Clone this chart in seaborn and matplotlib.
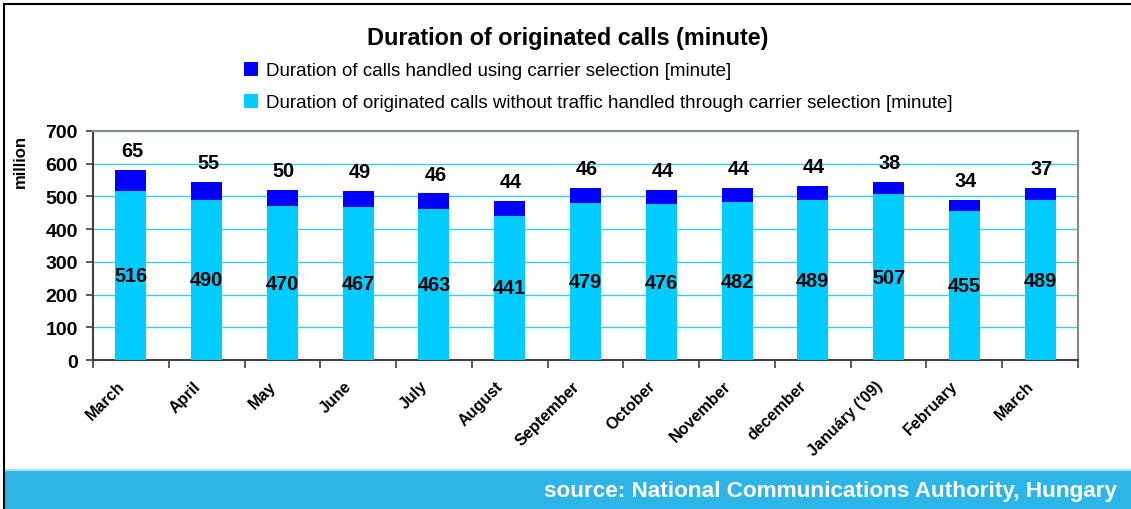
import numpy as np
import pandas as pd
import matplotlib
matplotlib.use("Agg")
import matplotlib.pyplot as plt
import matplotlib.transforms as mtransforms
from matplotlib.patches import Rectangle, Patch
from matplotlib.lines import Line2D
import seaborn as sns

months = ["March", "April", "May", "June", "July", "August", "September",
          "October", "November", "december", "Januáry ('09)", "February", "March"]
without_cs = [516, 490, 470, 467, 463, 441, 479, 476, 482, 489, 507, 455, 489]
with_cs = [65, 55, 50, 49, 46, 44, 46, 44, 44, 44, 38, 34, 37]

title = "Duration of originated calls (minute)"
label_cs = "Duration of calls handled using carrier selection [minute]"
label_rest = "Duration of originated calls without traffic handled through carrier selection [minute]"
source = "source: National Communications Authority, Hungary"

dark_blue = "#0000FF"
light_blue = "#00CCFF"

sns.set_theme(style="white")
plt.rcParams['font.family'] = ['Liberation Sans', 'DejaVu Sans']
plt.rcParams['text.color'] = 'black'
plt.rcParams['axes.labelcolor'] = 'black'
plt.rcParams['xtick.color'] = 'black'
plt.rcParams['ytick.color'] = 'black'

df = pd.DataFrame({
    "key": [str(i) for i in range(len(months))],
    "month": months,
    "rest": without_cs,
    "cs": with_cs,
})
df["total"] = df["rest"] + df["cs"]

fig = plt.figure(figsize=(11.31, 5.10), dpi=100)
ax = fig.add_axes([93/1131, 1 - 361/510, (1078 - 93)/1131, (361 - 132)/510])

sns.barplot(data=df, x="key", y="total", color=dark_blue, width=0.41,
            saturation=1, linewidth=0, ax=ax, zorder=3)
sns.barplot(data=df, x="key", y="rest", color=light_blue, width=0.41,
            saturation=1, linewidth=0, ax=ax, zorder=3)

ax.set_ylim(0, 700)
ax.set_xlim(-0.5, len(months) - 0.5)
ax.set_yticks(range(0, 701, 100))
ax.set_yticklabels([str(v) for v in range(0, 701, 100)], fontsize=14, fontweight="bold")
ax.yaxis.grid(True, color="#33CCF5", linewidth=1, zorder=0)
ax.xaxis.grid(False)
ax.set_axisbelow(True)

ax.set_xticks(range(len(months)))
ax.set_xticklabels(months, rotation=45, ha="right", rotation_mode="anchor",
                   fontsize=11.6, fontweight="bold")
ax.tick_params(axis="x", which="major", length=0, pad=13)
ax.set_xticks(np.arange(-0.5, len(months), 1), minor=True)
ax.tick_params(axis="x", which="minor", length=6, width=1.2, color="#404040", direction="out", bottom=True)
ax.tick_params(axis="y", length=5, width=1.2, color="#404040", direction="out", left=True, pad=6)
# nudge the slanted month labels left, as in the original
shift = mtransforms.ScaledTranslation(-14/100, 0, fig.dpi_scale_trans)
for lbl in ax.get_xticklabels():
    lbl.set_transform(lbl.get_transform() + shift)
ax.set_xlabel("")
ax.set_ylabel("million", fontsize=12, fontweight="bold")
ax.yaxis.set_label_coords(-65/985, 0.87)

for side in ["left", "bottom"]:
    ax.spines[side].set_color("#404040")
    ax.spines[side].set_linewidth(1.5)
for side in ["top", "right"]:
    ax.spines[side].set_color("#888888")
    ax.spines[side].set_linewidth(1.5)

for i, row in df.iterrows():
    ax.annotate(str(row["rest"]), (i, row["rest"] / 2), ha="center", va="center",
                fontsize=14.3, fontweight="bold", color="black", zorder=5)
    ax.annotate(str(row["cs"]), (i, row["total"]), xytext=(1, 14), textcoords="offset points",
                ha="center", va="center", fontsize=14.3, fontweight="bold", color="black", zorder=5)

fig.text(568/1131, 1 - 38/510, title, ha="center", va="center", fontsize=16.8, fontweight="bold")

handles = [Patch(facecolor=dark_blue, edgecolor="none"), Patch(facecolor=light_blue, edgecolor="none")]
fig.legend(handles, [label_cs, label_rest], loc="upper left",
           bbox_to_anchor=(244/1131, 1 - 63/510), frameon=False, fontsize=13.5,
           handlelength=0.75, handleheight=0.75, handletextpad=0.4, labelspacing=0.78,
           borderaxespad=0, borderpad=0)

# source banner
fig.patches.append(Rectangle((5/1131, 0), 1, 39/510, transform=fig.transFigure,
                             facecolor="#2DB5E8", edgecolor="none", zorder=0))
fig.lines.append(Line2D([5/1131, 1], [39/510, 39/510], transform=fig.transFigure,
                        color="#A6E2F7", linewidth=1.5))
fig.text(1117/1131, 1 - 492/510, source, ha="right", va="center", fontsize=16.2,
         fontweight="bold", color="white")

# outer frame
fig.lines.append(Line2D([4/1131, 1], [1 - 5/510, 1 - 5/510], transform=fig.transFigure,
                        color="black", linewidth=1.5))
fig.lines.append(Line2D([4/1131, 4/1131], [0, 1 - 5/510], transform=fig.transFigure,
                        color="black", linewidth=1.5))

fig.savefig("out.png", dpi=100)
